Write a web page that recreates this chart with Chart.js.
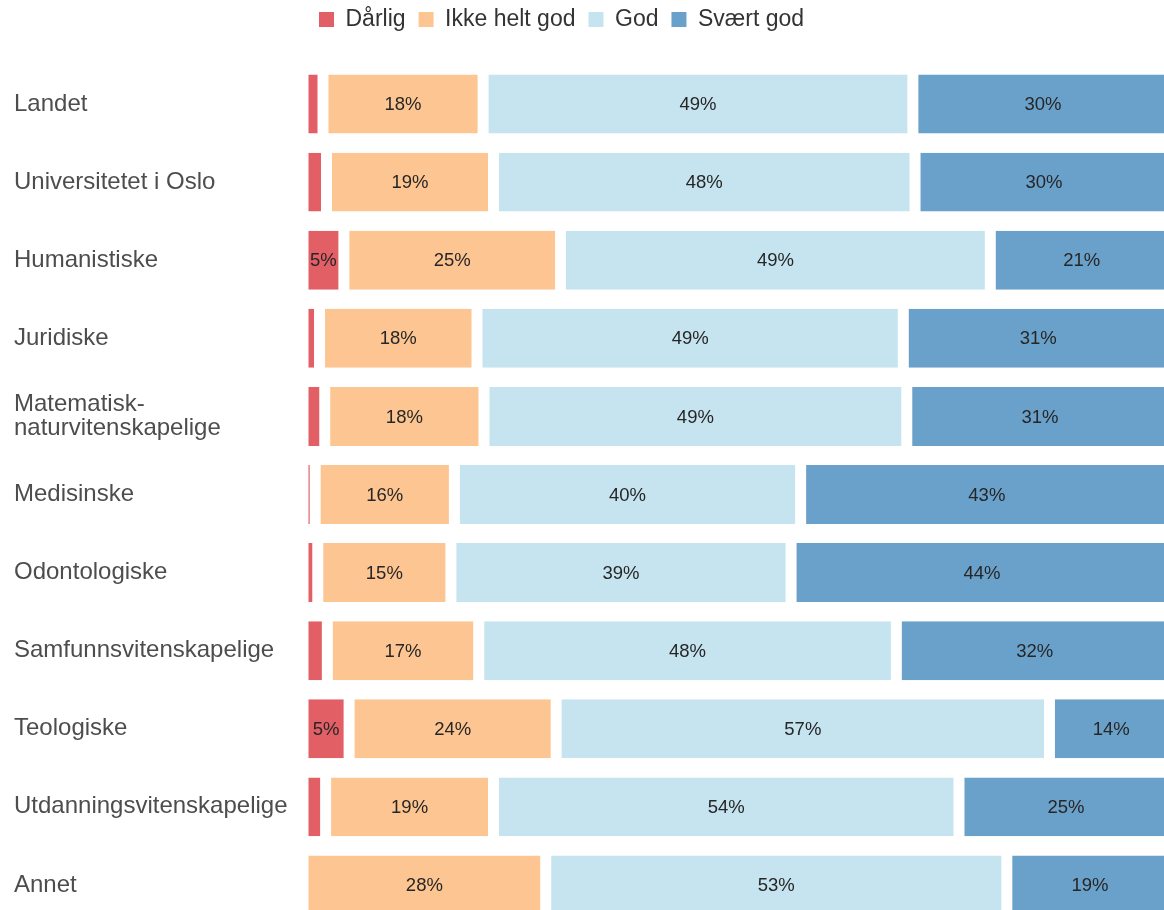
<!DOCTYPE html>
<html>
<head>
<meta charset="utf-8">
<script src="https://cdn.jsdelivr.net/npm/chart.js@4/dist/chart.umd.min.js"></script>
<style>
  html, body { margin: 0; padding: 0; background: #fff; overflow: hidden; }
  #wrap { width: 1173px; height: 924px; }
</style>
</head>
<body>
<div id="wrap"><canvas id="chart" width="1173" height="924"></canvas></div>
<script>
// Categories (top to bottom)
const categories = [
    'Landet',
    'Universitetet i Oslo',
    'Humanistiske',
    'Juridiske',
    ['Matematisk-', 'naturvitenskapelige'],
    'Medisinske',
    'Odontologiske',
    'Samfunnsvitenskapelige',
    'Teologiske',
    'Utdanningsvitenskapelige',
    'Annet'
];

// Shares in percent
const darlig      = [2.3, 2.7, 4.7, 1.9, 2.5, 1.4, 1.7, 2.8, 5.3, 2.6, 0];
const ikkeHeltGod = [18.4, 19.2, 24.9, 18.1, 18.3, 16.0, 15.3, 17.4, 23.8, 19.3, 27.9];
const god         = [49.4, 48.45, 49.4, 49.0, 48.6, 39.8, 39.1, 48.0, 56.7, 53.5, 53.0];
const svaertGod   = [29.9, 29.65, 21.0, 31.0, 30.6, 42.8, 43.9, 31.8, 14.2, 24.6, 19.1];

const seriesNames = ['Dårlig', 'Ikke helt god', 'God', 'Svært god'];
const seriesColors = ['#e35f66', '#fdc591', '#c5e4ef', '#6aa1ca'];

Chart.defaults.font.family = '"Liberation Sans", Arial, sans-serif';

// percent labels in the middle of each segment
const segmentLabels = {
    id: 'segmentLabels',
    afterDatasetsDraw(chart) {
        const ctx = chart.ctx;
        ctx.save();
        ctx.font = '18.5px "Liberation Sans", Arial, sans-serif';
        ctx.fillStyle = '#262626';
        ctx.textAlign = 'center';
        ctx.textBaseline = 'middle';
        chart.data.datasets.forEach((ds, i) => {
            const meta = chart.getDatasetMeta(i);
            meta.data.forEach((bar, j) => {
                const v = ds.data[j];
                if (v < 4) return;
                const p = bar.getCenterPoint();
                ctx.fillText(Math.round(v) + '%', p.x, p.y + 1);
            });
        });
        ctx.restore();
    }
};

// put the legend where the original has it
const legendPlace = {
    id: 'legendPlace',
    afterLayout(chart) {
        const l = chart.legend;
        l.left = 306;
        l.top = -5;
        l.bottom = l.top + l.height;
    }
};

const datasets = [darlig, ikkeHeltGod, god, svaertGod].map((values, i) => ({
    label: seriesNames[i],
    data: values,
    backgroundColor: seriesColors[i],
    borderColor: '#ffffff',
    borderWidth: {left: 5.5, right: 5.5, top: 0, bottom: 0},
    borderSkipped: false,
    barPercentage: 0.755,
    categoryPercentage: 1
}));

new Chart(document.getElementById('chart'), {
    type: 'bar',
    data: {
        labels: categories,
        datasets: datasets
    },
    options: {
        indexAxis: 'y',
        responsive: false,
        animation: false,
        layout: {
            padding: {left: 14, top: 19, right: 0, bottom: 0}
        },
        plugins: {
            legend: {
                position: 'top',
                align: 'start',
                labels: {
                    boxWidth: 15,
                    boxHeight: 15,
                    padding: 13,
                    color: '#333333',
                    font: {size: 23},
                    generateLabels: c => Chart.defaults.plugins.legend.labels.generateLabels(c).map(item => ({...item, lineWidth: 0}))
                }
            },
            tooltip: {enabled: false}
        },
        scales: {
            x: {
                stacked: true,
                min: 0,
                max: 100,
                display: false
            },
            y: {
                stacked: true,
                grid: {display: false},
                border: {display: false},
                afterFit: scale => {
                    scale.width = 289;
                    scale.paddingTop = 0;
                    scale.paddingBottom = 0;
                },
                ticks: {
                    crossAlign: 'far',
                    color: '#4d4d4d',
                    font: {size: 24, lineHeight: 1.0}
                }
            }
        }
    },
    plugins: [segmentLabels, legendPlace]
});
</script>
</body>
</html>
